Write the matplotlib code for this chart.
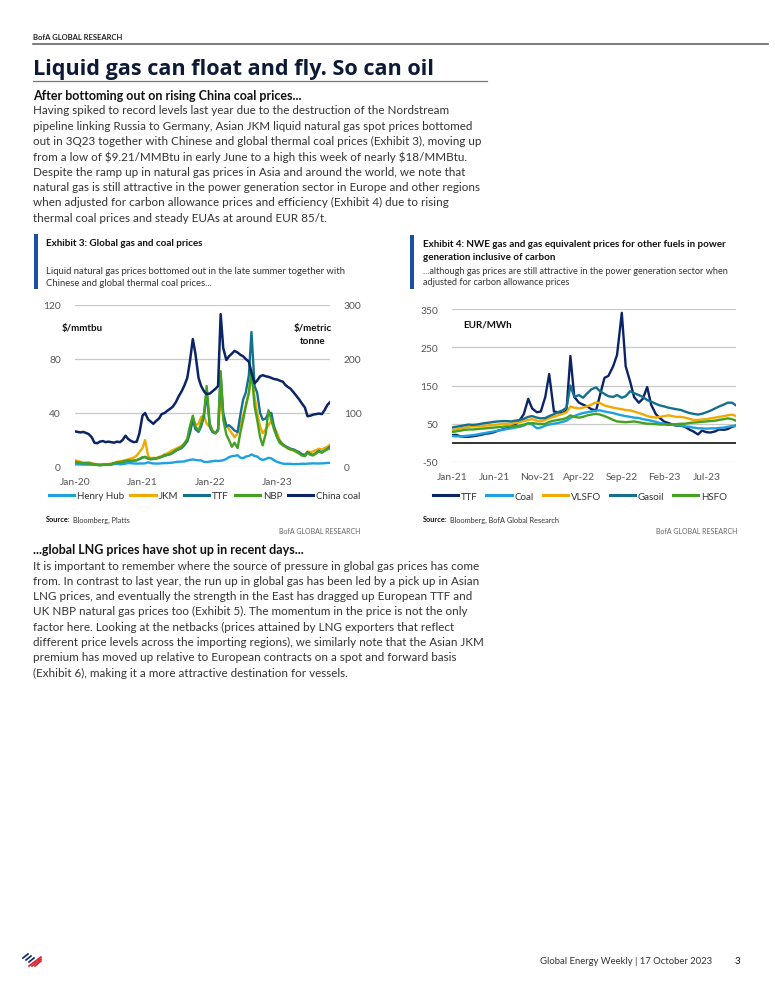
import numpy as np
import pandas as pd
import matplotlib
matplotlib.use('Agg')
import matplotlib.pyplot as plt
import matplotlib.dates as mdates
from matplotlib.patches import Rectangle
from matplotlib.lines import Line2D

plt.rcParams['font.family'] = ['Lato', 'DejaVu Sans']
plt.rcParams['axes.unicode_minus'] = False

W, H = 775, 1003

def fx(x):
    return x / W

def fy(y):
    return 1 - y / H

# ---- Exhibit 3 data (semi-monthly, Jan-20 .. Oct-23) ----
dates1 = pd.date_range('2020-01-01', '2023-10-15', freq='SMS')

henry_hub = [2.1, 1.9, 1.9, 1.8, 1.8, 1.7, 1.7, 1.8, 1.8, 1.7, 1.7, 1.6, 1.7, 1.8, 2.2, 2.4, 2.0, 2.1, 2.5, 2.9, 2.8, 2.6, 2.5, 2.6,
             2.6, 2.7, 3.5, 2.9, 2.6, 2.5, 2.6, 2.7, 2.9, 2.9, 3.1, 3.3, 3.7, 3.9, 4.0, 4.1, 4.8, 5.3, 5.6, 5.2, 5.0, 4.9, 3.8, 3.7,
             4.0, 4.3, 4.6, 4.4, 4.7, 5.0, 6.0, 7.3, 8.0, 8.2, 8.7, 7.0, 6.5, 7.7, 8.2, 9.3, 8.2, 7.8, 6.0, 5.2, 5.9, 6.8, 6.4, 5.0,
             3.8, 3.2, 2.5, 2.3, 2.4, 2.3, 2.1, 2.2, 2.2, 2.4, 2.3, 2.5, 2.6, 2.7, 2.6, 2.6, 2.7, 2.8, 3.0, 3.1]
jkm = [5.0, 4.5, 3.8, 3.2, 3.3, 3.5, 2.8, 2.3, 2.1, 2.0, 2.2, 2.0, 2.2, 2.5, 3.0, 3.8, 4.2, 4.5, 5.2, 5.6, 6.5, 7.0, 8.5, 11.0,
       14.0, 20.0, 8.0, 6.5, 6.8, 6.6, 7.5, 8.0, 9.5, 10.0, 11.5, 12.5, 13.5, 14.5, 15.5, 17.5, 20.0, 26.0, 36.0, 31.0, 32.0, 37.0, 38.0, 32.0,
       30.0, 26.0, 25.0, 28.0, 50.0, 38.0, 31.0, 28.0, 25.0, 22.0, 25.0, 32.0, 38.0, 45.0, 55.0, 68.0, 52.0, 40.0, 30.0, 25.0, 28.0, 31.0, 34.0, 30.0,
       25.0, 20.0, 17.0, 15.0, 13.5, 13.0, 12.0, 11.0, 10.0, 9.0, 9.5, 11.5, 11.0, 11.5, 12.5, 13.5, 13.0, 14.0, 15.0, 16.5]
ttf1 = [3.8, 3.3, 3.0, 2.8, 2.9, 2.6, 2.3, 2.0, 1.6, 1.4, 1.6, 1.8, 1.8, 2.0, 2.8, 3.3, 3.5, 3.8, 4.2, 4.6, 4.5, 4.6, 5.0, 5.8,
        7.0, 7.5, 6.2, 5.8, 6.0, 6.2, 6.9, 7.5, 8.5, 8.8, 9.5, 10.5, 12.0, 13.0, 14.0, 16.0, 19.0, 25.0, 35.0, 28.0, 26.0, 30.0, 38.0, 55.0,
        30.0, 26.0, 25.0, 28.0, 68.0, 40.0, 30.0, 31.0, 29.0, 27.0, 26.0, 38.0, 50.0, 55.0, 68.0, 100.0, 60.0, 55.0, 40.0, 35.0, 36.0, 40.0, 40.0, 30.0,
        22.0, 19.0, 16.5, 15.5, 14.5, 13.5, 13.0, 12.0, 11.0, 9.5, 8.5, 11.0, 9.5, 9.0, 10.5, 12.0, 11.0, 12.0, 13.5, 15.0]
nbp = [3.6, 3.2, 2.9, 2.7, 2.8, 2.5, 2.2, 1.8, 1.5, 1.3, 1.5, 1.7, 1.7, 1.9, 2.7, 3.2, 3.4, 3.9, 4.4, 4.8, 4.6, 4.7, 5.2, 6.0,
       7.2, 7.4, 6.0, 5.8, 6.0, 6.4, 7.0, 7.6, 8.6, 9.0, 9.8, 10.8, 12.5, 13.5, 14.8, 17.0, 21.0, 30.0, 38.0, 30.0, 27.0, 32.0, 40.0, 60.0,
       32.0, 27.0, 25.0, 27.0, 71.0, 35.0, 24.0, 20.0, 15.0, 18.0, 14.0, 25.0, 35.0, 45.0, 55.0, 72.0, 45.0, 35.0, 22.0, 16.0, 25.0, 42.0, 35.0, 28.0,
       22.0, 18.0, 16.0, 15.0, 14.0, 13.0, 12.5, 11.5, 10.0, 8.5, 8.0, 10.5, 9.0, 8.5, 10.0, 11.5, 10.5, 12.0, 13.0, 14.0]
china_coal = [66, 65, 64, 65, 63, 61, 55, 45, 44, 47, 48, 46, 47, 46, 45, 47, 46, 50, 58, 52, 48, 46, 47, 62,
              95, 100, 88, 84, 80, 85, 90, 98, 100, 104, 108, 112, 120, 130, 140, 150, 165, 195, 237, 210, 165, 150, 140, 135,
              136, 140, 145, 150, 283, 220, 198, 205, 210, 215, 212, 208, 205, 200, 195, 175, 155, 160, 168, 170, 168, 167, 165, 163,
              162, 160, 158, 152, 148, 145, 138, 132, 125, 118, 110, 94, 95, 97, 98, 99, 98, 105, 115, 120]

# ---- Exhibit 4 data (EUR/MWh, semi-monthly, Jan-21 .. Oct-23) ----
dates2 = pd.date_range('2021-01-01', '2023-10-15', freq='SMS')

ttf2 = [20, 21, 17, 16, 16, 17, 19, 21, 24, 25, 28, 32, 35, 38, 42, 48, 60, 75, 115, 90, 80, 82, 120, 180,
        82, 80, 78, 85, 227, 120, 105, 100, 95, 88, 85, 125, 170, 175, 200, 230, 340, 200, 160, 120, 105, 115, 146, 100,
        75, 65, 55, 52, 48, 45, 45, 42, 35, 30, 22, 32, 28, 27, 30, 35, 34, 36, 42, 45]
coal2 = [18, 17, 17, 18, 19, 20, 22, 24, 26, 28, 30, 32, 34, 36, 38, 40, 42, 45, 52, 48, 38, 40, 45, 48,
         50, 52, 55, 58, 65, 70, 75, 78, 80, 82, 84, 85, 82, 80, 78, 75, 72, 70, 68, 66, 65, 62, 60, 58,
         55, 52, 50, 48, 47, 46, 45, 43, 42, 40, 38, 38, 37, 38, 38, 39, 40, 42, 44, 45]
vlsfo = [33, 35, 38, 40, 42, 43, 43, 44, 45, 46, 47, 48, 50, 50, 50, 52, 54, 57, 60, 62, 58, 56, 60, 65,
         68, 72, 76, 80, 95, 92, 90, 92, 96, 100, 106, 104, 98, 95, 92, 90, 88, 86, 85, 82, 78, 75, 70, 68,
         66, 68, 70, 72, 70, 68, 68, 66, 63, 60, 60, 61, 62, 64, 66, 68, 70, 72, 74, 70]
gasoil = [40, 42, 44, 46, 48, 47, 48, 50, 52, 53, 55, 56, 57, 57, 56, 58, 60, 63, 68, 70, 66, 64, 65, 70,
          75, 80, 85, 92, 150, 120, 125, 118, 130, 140, 145, 135, 128, 122, 120, 125, 118, 122, 135, 130, 125, 120, 112, 108,
          102, 98, 95, 92, 90, 88, 86, 82, 78, 76, 74, 76, 80, 84, 90, 95, 100, 105, 105, 98]
hsfo = [28, 30, 32, 34, 35, 35, 36, 37, 38, 39, 40, 41, 42, 43, 43, 44, 45, 48, 50, 52, 50, 49, 50, 55,
        58, 60, 62, 65, 72, 68, 66, 68, 72, 74, 76, 74, 70, 66, 60, 56, 55, 54, 55, 56, 54, 52, 50, 50,
        49, 48, 48, 47, 48, 49, 50, 50, 52, 53, 54, 55, 56, 57, 58, 60, 62, 64, 62, 58]

# colours
navy = '#0b2466'
light_blue = '#1ea1e0'
gold = '#f2a900'
teal = '#15708f'
green = '#45a221'
bar_blue = '#1a4fa6'
txt = '#333333'
grey = '#555555'

# ---- text ----
body1 = [
    "Having spiked to record levels last year due to the destruction of the Nordstream",
    "pipeline linking Russia to Germany, Asian JKM liquid natural gas spot prices bottomed",
    "out in 3Q23 together with Chinese and global thermal coal prices (Exhibit 3), moving up",
    "from a low of \\$9.21/MMBtu in early June to a high this week of nearly \\$18/MMBtu.",
    "Despite the ramp up in natural gas prices in Asia and around the world, we note that",
    "natural gas is still attractive in the power generation sector in Europe and other regions",
    "when adjusted for carbon allowance prices and efficiency (Exhibit 4) due to rising",
    "thermal coal prices and steady EUAs at around EUR 85/t.",
]
body2 = [
    "It is important to remember where the source of pressure in global gas prices has come",
    "from. In contrast to last year, the run up in global gas has been led by a pick up in Asian",
    "LNG prices, and eventually the strength in the East has dragged up European TTF and",
    "UK NBP natural gas prices too (Exhibit 5). The momentum in the price is not the only",
    "factor here. Looking at the netbacks (prices attained by LNG exporters that reflect",
    "different price levels across the importing regions), we similarly note that the Asian JKM",
    "premium has moved up relative to European contracts on a spot and forward basis",
    "(Exhibit 6), making it a more attractive destination for vessels.",
]

fig = plt.figure(figsize=(7.75, 10.03), dpi=100)

# header
fig.text(fx(33), fy(38), 'BofA GLOBAL RESEARCH', fontsize=5.5, fontweight='bold', color='#222222', va='center')
fig.add_artist(Line2D([fx(33), fx(768)], [fy(45), fy(45)], color='#666666', lw=1.2))
fig.text(fx(33), fy(69), 'Liquid gas can float and fly. So can oil', fontsize=15.6, fontweight='bold',
         family=['Open Sans', 'DejaVu Sans'], color='#0d1a36', va='center')
fig.add_artist(Line2D([fx(33), fx(487)], [fy(82), fy(82)], color='#777777', lw=0.9))

fig.text(fx(33), fy(96), 'After bottoming out on rising China coal prices...', fontsize=9,
         fontweight='bold', color='#111111', va='center')
for i, line in enumerate(body1):
    fig.text(fx(33), fy(111 + i * 15.3), line, fontsize=8.4, color=txt, va='center')

fig.text(fx(33), fy(550), '...global LNG prices have shot up in recent days...', fontsize=9,
         fontweight='bold', color='#111111', va='center')
for i, line in enumerate(body2):
    fig.text(fx(33), fy(566 + i * 15.3), line, fontsize=8.4, color=txt, va='center')

# exhibit headers
fig.add_artist(Rectangle((fx(34), fy(290)), fx(4), (290 - 235) / H, transform=fig.transFigure,
                         color=bar_blue, lw=0))
fig.text(fx(46), fy(244), 'Exhibit 3: Global gas and coal prices', fontsize=7.1, fontweight='bold',
         color='#111111', va='center')
fig.text(fx(46), fy(271), 'Liquid natural gas prices bottomed out in the late summer together with',
         fontsize=6.8, color=txt, va='center')
fig.text(fx(46), fy(284), 'Chinese and global thermal coal prices...', fontsize=6.8, color=txt, va='center')

fig.add_artist(Rectangle((fx(410), fy(290)), fx(4), (290 - 236) / H, transform=fig.transFigure,
                         color=bar_blue, lw=0))
fig.text(fx(423), fy(245), 'Exhibit 4: NWE gas and gas equivalent prices for other fuels in power',
         fontsize=7.1, fontweight='bold', color='#111111', va='center')
fig.text(fx(423), fy(258), 'generation inclusive of carbon', fontsize=7.1, fontweight='bold',
         color='#111111', va='center')
fig.text(fx(423), fy(271), '...although gas prices are still attractive in the power generation sector when',
         fontsize=6.55, color=txt, va='center')
fig.text(fx(423), fy(283), 'adjusted for carbon allowance prices', fontsize=6.55, color=txt, va='center')

# ---- Exhibit 3 chart ----
ax1 = fig.add_axes([fx(75), fy(468), (330 - 75) / W, (468 - 306) / H])
ax1r = ax1.twinx()
l_hh, = ax1.plot(dates1, henry_hub, color=light_blue, lw=1.7, label='Henry Hub')
l_jkm, = ax1.plot(dates1, jkm, color=gold, lw=1.7, label='JKM')
l_ttf, = ax1.plot(dates1, ttf1, color=teal, lw=1.7, label='TTF')
l_nbp, = ax1.plot(dates1, nbp, color=green, lw=1.7, label='NBP')
l_cc, = ax1r.plot(dates1, china_coal, color=navy, lw=1.8, label='China coal')

ax1.set_ylim(0, 120)
ax1r.set_ylim(0, 300)
ax1.set_yticks([0, 40, 80, 120])
ax1r.set_yticks([0, 100, 200, 300])
ax1.set_xlim(dates1[0], dates1[-1])
ax1.xaxis.set_major_locator(mdates.YearLocator())
ax1.xaxis.set_major_formatter(mdates.DateFormatter('%b-%y'))
ax1.grid(axis='y', color='#c8c8c8', lw=0.9)
ax1.set_axisbelow(True)
for a in (ax1, ax1r):
    for s in a.spines.values():
        s.set_visible(False)
    a.tick_params(length=0, labelsize=7.4, labelcolor=grey)
ax1.tick_params(axis='y', pad=10)
ax1r.tick_params(axis='y', pad=10)
ax1.tick_params(axis='x', pad=7)
fig.text(fx(62), fy(328), '\\$/mmtbu', fontsize=7, fontweight='bold', color='#111111', va='center')
fig.text(fx(313), fy(335), '\\$/metric\ntonne', fontsize=7, fontweight='bold', color='#111111',
         va='center', ha='center', linespacing=1.5)
ax1.legend(handles=[l_hh, l_jkm, l_ttf, l_nbp, l_cc], loc='center', ncol=5, frameon=False,
           bbox_to_anchor=((205 - 75) / 255, (468 - 497) / 162), fontsize=7, handlelength=2.6,
           columnspacing=0.6, handletextpad=0.3, labelcolor=txt)
for h in ax1.get_legend().legend_handles:
    h.set_linewidth(2.2)

fig.text(fx(46), fy(520), 'Source:', fontsize=5.3, fontweight='bold', color='#111111', va='center')
fig.text(fx(73), fy(520), 'Bloomberg, Platts', fontsize=5.3, color=txt, va='center')
fig.text(fx(360), fy(531), 'BofA GLOBAL RESEARCH', fontsize=5, color='#666666', va='center', ha='right')

# ---- Exhibit 4 chart ----
ax2 = fig.add_axes([fx(452), fy(463), (736 - 452) / W, (463 - 310) / H])
l2_ttf, = ax2.plot(dates2, ttf2, color=navy, lw=1.7, label='TTF')
l2_coal, = ax2.plot(dates2, coal2, color=light_blue, lw=1.7, label='Coal')
l2_vl, = ax2.plot(dates2, vlsfo, color=gold, lw=1.7, label='VLSFO')
l2_go, = ax2.plot(dates2, gasoil, color=teal, lw=1.7, label='Gasoil')
l2_hs, = ax2.plot(dates2, hsfo, color=green, lw=1.7, label='HSFO')
ax2.axhline(0, color='#333333', lw=1.4)
ax2.set_ylim(-50, 350)
ax2.set_yticks([-50, 50, 150, 250, 350])
ax2.set_xlim(dates2[0], dates2[-1])
ax2.set_xticks(pd.to_datetime(['2021-01-01', '2021-06-01', '2021-11-01', '2022-04-01',
                               '2022-09-01', '2023-02-01', '2023-07-01']))
ax2.xaxis.set_major_formatter(mdates.DateFormatter('%b-%y'))
ax2.grid(axis='y', color='#c8c8c8', lw=0.9)
ax2.set_axisbelow(True)
for s in ax2.spines.values():
    s.set_visible(False)
ax2.tick_params(length=0, labelsize=7.4, labelcolor=grey)
ax2.tick_params(axis='y', pad=10)
ax2.tick_params(axis='x', pad=7)
ax2.text(0.04, 0.9, 'EUR/MWh', transform=ax2.transAxes, fontsize=7, fontweight='bold',
         color='#111111', va='center')
ax2.legend(handles=[l2_ttf, l2_coal, l2_vl, l2_go, l2_hs], loc='center', ncol=5, frameon=False,
           bbox_to_anchor=((580 - 452) / 284, (463 - 497) / 153), fontsize=7, handlelength=2.6,
           columnspacing=0.9, handletextpad=0.3, labelcolor=txt)
for h in ax2.get_legend().legend_handles:
    h.set_linewidth(2.2)

fig.text(fx(423), fy(520), 'Source:', fontsize=5.3, fontweight='bold', color='#111111', va='center')
fig.text(fx(450), fy(520), 'Bloomberg, BofA Global Research', fontsize=5.3, color=txt, va='center')
fig.text(fx(737), fy(531), 'BofA GLOBAL RESEARCH', fontsize=5, color='#666666', va='center', ha='right')

# ---- footer ----
for k in range(3):
    fig.add_artist(Line2D([fx(23 + 3 * k), fx(28 + 3 * k)], [fy(959 + 2 * k), fy(955 + 2 * k)],
                          color=navy, lw=1.2))
    fig.add_artist(Line2D([fx(29 + 3 * k), fx(41)], [fy(967), fy(958 + 2 * k)],
                          color='#d4202c', lw=1.2))
fig.text(fx(712), fy(962), 'Global Energy Weekly | 17 October 2023', fontsize=6.8, color=txt,
         va='center', ha='right')
fig.text(fx(737), fy(962), '3', fontsize=7, color='#111111', va='center', ha='center')

fig.savefig('out.png', dpi=100, facecolor='white')
